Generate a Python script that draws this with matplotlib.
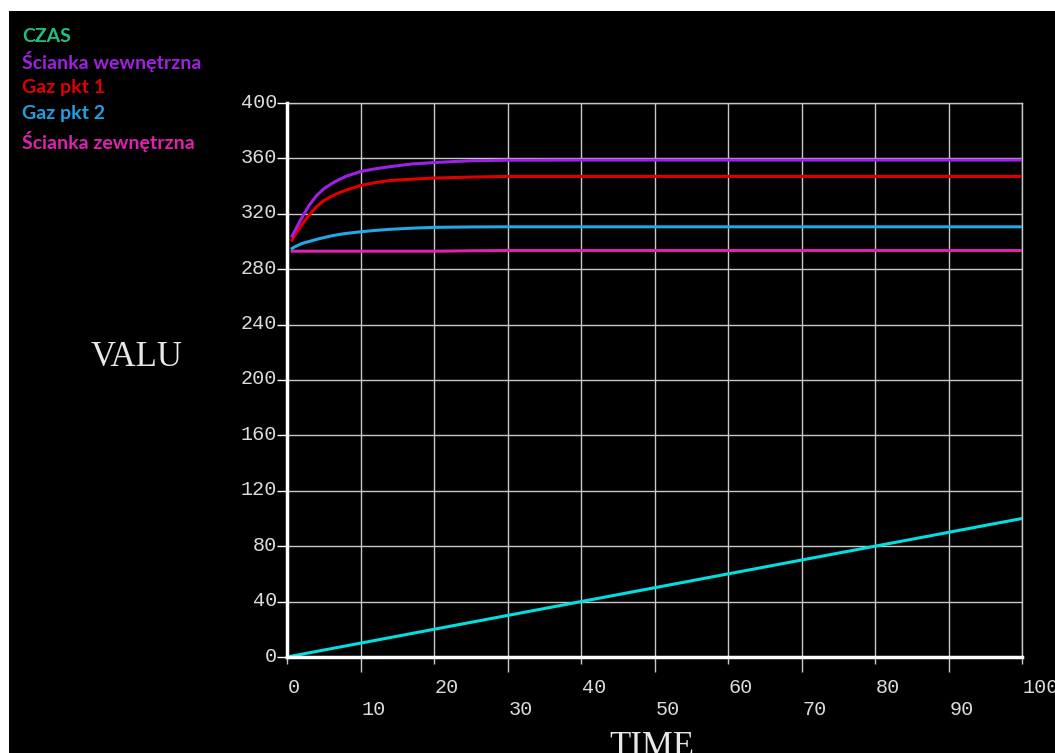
import matplotlib
matplotlib.use("Agg")
import matplotlib.pyplot as plt
from matplotlib.patches import Rectangle
from matplotlib import transforms

# values
t_czas = [0, 10, 20, 30, 40, 50, 60, 70, 80, 90, 100]
czas = [0, 10, 20, 30, 40, 50, 60, 70, 80, 90, 100]

t_curves = [0.7, 1, 2, 3, 4, 5, 6, 7, 8, 10, 12, 14, 17, 20, 25, 30, 40, 50, 60, 70, 80, 90, 100]
sc_wewn = [304, 307, 317, 326, 333, 338, 341.5, 344.5, 347, 350.5, 352.5, 354, 356, 357, 358.3,
           358.7, 358.8, 358.8, 358.8, 358.8, 358.8, 358.8, 358.8]
gaz1 = [301, 304, 312, 319, 325, 329.5, 332.5, 335, 337, 340.5, 342.5, 344, 345, 345.8, 346.5,
        347, 347, 347, 347, 347, 347, 347, 347]
gaz2 = [295, 296, 298.5, 300, 301.5, 302.8, 304, 305, 305.8, 307, 308, 308.8, 309.6, 310.2,
        310.5, 310.6, 310.6, 310.6, 310.6, 310.6, 310.6, 310.6, 310.6]
sc_zewn = [293, 293, 293, 293, 293, 293, 293, 293, 293, 293, 293, 293, 293, 293, 293.3, 293.5,
           293.5, 293.5, 293.5, 293.5, 293.5, 293.5, 293.5]

labels = ["CZAS", "Ścianka wewnętrzna", "Gaz pkt 1", "Gaz pkt 2", "Ścianka zewnętrzna"]
label_colors = ["#20c080", "#a020e0", "#e00000", "#20a0e0", "#e020b0"]

fig = plt.figure(figsize=(10.55, 7.53), dpi=100, facecolor="white")
fig.patches.append(Rectangle((9 / 1055, 0), 1, (753 - 11) / 753, transform=fig.transFigure,
                             facecolor="black", edgecolor="none", zorder=-10))

ax = fig.add_axes([287 / 1055, 96 / 753, 735 / 1055, 554 / 753])
ax.set_facecolor("black")

ax.plot(t_czas, czas, color="#00e0e0", lw=2.2, zorder=5)
ax.plot(t_curves, sc_zewn, color="#e020b0", lw=2.2, zorder=5)
ax.plot(t_curves, gaz2, color="#20a8e8", lw=2.2, zorder=5)
ax.plot(t_curves, gaz1, color="#e00000", lw=2.2, zorder=5)
ax.plot(t_curves, sc_wewn, color="#a020e8", lw=2.2, zorder=5)

ax.set_xlim(0, 100)
ax.set_ylim(0, 400)

# grid
ax.set_xticks(range(0, 101, 20))
ax.set_xticks(range(10, 100, 20), minor=True)
ax.set_yticks(range(0, 401, 40))
ax.grid(True, which="both", color="#c8c8c8", lw=1.0)

for s in ["top", "right"]:
    ax.spines[s].set_color("#c8c8c8")
    ax.spines[s].set_linewidth(1.0)
for s in ["left", "bottom"]:
    ax.spines[s].set_color("white")
    ax.spines[s].set_linewidth(2.5)
    ax.spines[s].set_zorder(6)

mono = "Liberation Mono"
tick_col = "#dcdcdc"
ax.set_xticklabels([str(v) for v in range(0, 101, 20)], family=mono, fontsize=14.5, color=tick_col)
ax.set_xticklabels([str(v) for v in range(10, 100, 20)], minor=True, family=mono, fontsize=14.5,
                   color=tick_col)
ax.tick_params(axis="x", which="major", length=5, width=1, color="#c8c8c8", pad=10)
ax.tick_params(axis="x", which="minor", length=11, width=1, color="#c8c8c8", pad=20)
for lab in ax.get_xticklabels(which="both"):
    lab.set_horizontalalignment("left")
    lab.set_transform(lab.get_transform() + transforms.ScaledTranslation(1 / 100, 0, fig.dpi_scale_trans))

ax.set_yticklabels([str(v) for v in range(0, 401, 40)], family=mono, fontsize=14.5, color=tick_col)
ax.tick_params(axis="y", length=7, width=1, color="white", pad=0)
for lab in ax.get_yticklabels():
    lab.set_transform(lab.get_transform() + transforms.ScaledTranslation(0, 3 / 100, fig.dpi_scale_trans))

# axis titles
fig.text(137 / 1055, 1 - 357 / 753, "VALU", family="Liberation Serif", fontsize=25,
         color="#e8e8e8", ha="center", va="center")
fig.text(652 / 1055, 1 - 747 / 753, "TIME", family="Liberation Serif", fontsize=25,
         color="#e8e8e8", ha="center", va="center")

# legend
ys = [37, 62, 88, 114, 142]
for y, txt, c in zip(ys, labels, label_colors):
    fig.text(22 / 1055, 1 - y / 753, txt, family="Lato", fontweight="bold", fontsize=14,
             color=c, ha="left", va="center")

fig.savefig("out.png", dpi=100, facecolor=fig.get_facecolor())
